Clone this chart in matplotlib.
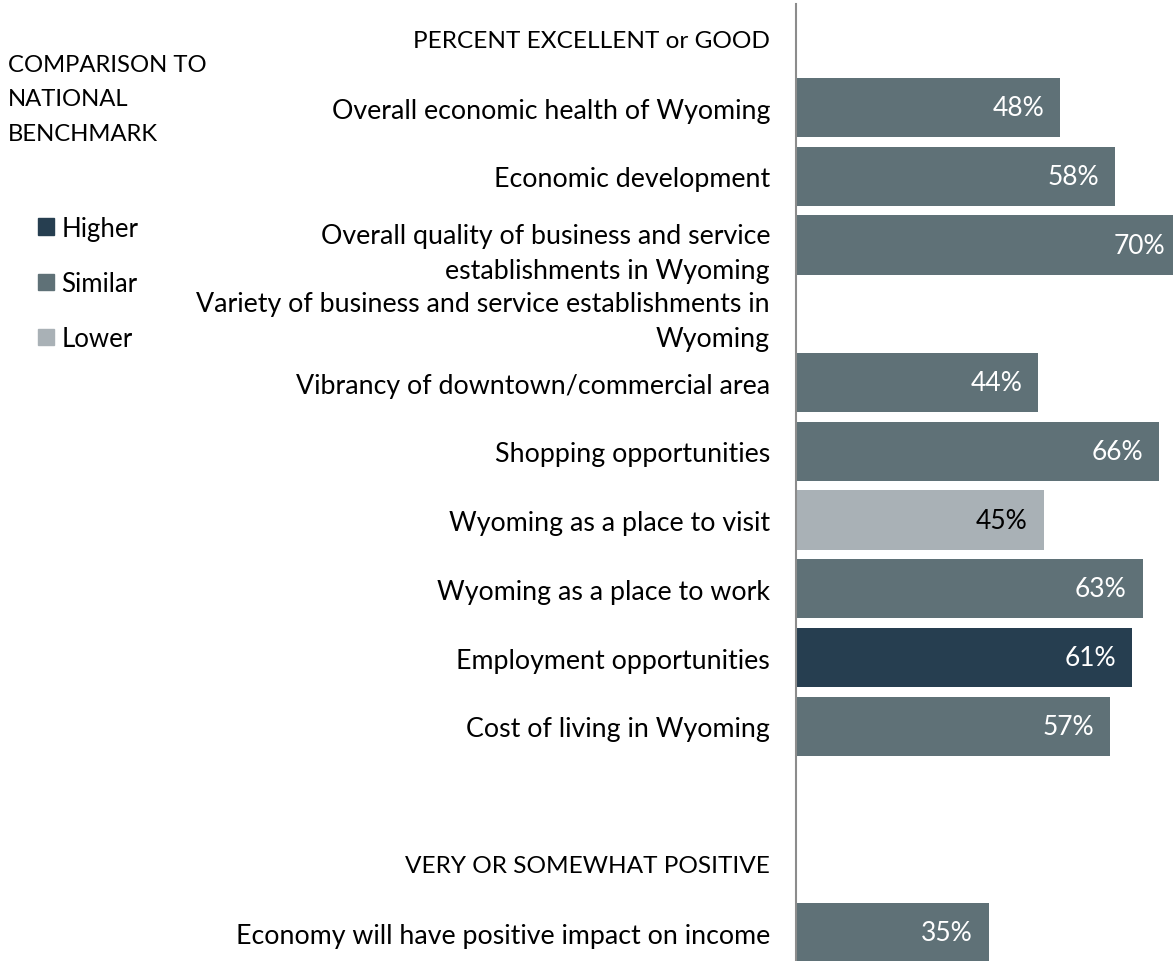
import matplotlib.pyplot as plt
from matplotlib.patches import Patch
import numpy as np

plt.rcParams['font.family'] = ['Lato', 'DejaVu Sans']

# rows from top to bottom; section headers and empty rows carry no value
categories = [
    'PERCENT EXCELLENT or GOOD',
    'Overall economic health of Wyoming',
    'Economic development',
    'Overall quality of business and service\nestablishments in Wyoming',
    'Variety of business and service establishments in\nWyoming',
    'Vibrancy of downtown/commercial area',
    'Shopping opportunities',
    'Wyoming as a place to visit',
    'Wyoming as a place to work',
    'Employment opportunities',
    'Cost of living in Wyoming',
    '',
    'VERY OR SOMEWHAT POSITIVE',
    'Economy will have positive impact on income',
]
values = [np.nan, 48, 58, 70, np.nan, 44, 66, 45, 63, 61, 57, np.nan, np.nan, 35]
benchmark = [None, 'Similar', 'Similar', 'Similar', None, 'Similar', 'Similar',
             'Lower', 'Similar', 'Higher', 'Similar', None, None, 'Similar']
section_rows = [0, 12]

legend_levels = ['Higher', 'Similar', 'Lower']
level_colors = {'Higher': '#263e50', 'Similar': '#5f7177', 'Lower': '#a9b1b6'}
text_colors = {'Higher': 'white', 'Similar': 'white', 'Lower': 'black'}

W, H = 1173, 962
fig = plt.figure(figsize=(W / 100, H / 100), dpi=100)
ax = fig.add_axes([796 / W, 1 - 967.9 / H, 1 - 796 / W, 962.5 / H])

y = np.arange(len(categories))
bar_colors = [level_colors[b] if b else 'none' for b in benchmark]
ax.barh(y, np.nan_to_num(values), height=0.86, color=bar_colors)

for i, (v, b) in enumerate(zip(values, benchmark)):
    if b is None or np.isnan(v):
        continue
    ax.annotate(f'{v:.0f}%', (v, i), xytext=(-11.5, 0), textcoords='offset points',
                ha='right', va='center', fontsize=19, color=text_colors[b],
                annotation_clip=False)

ax.set_xlim(0, 68.5)
ax.set_ylim(len(categories) - 0.5, -0.5)
ax.set_yticks(y)
ax.set_yticklabels(categories, fontsize=19.3, color='black')
for i, lab in enumerate(ax.get_yticklabels()):
    lab.set_linespacing(1.5)
    if i in section_rows:
        lab.set_fontsize(17.6)
ax.tick_params(axis='y', length=0, pad=18.7)
ax.set_xticks([])
for s in ['top', 'right', 'bottom']:
    ax.spines[s].set_visible(False)
ax.spines['left'].set_color('#8c8c8c')
ax.spines['left'].set_linewidth(1.5)

fig.text(8 / W, 1 - 100 / H, 'COMPARISON TO\nNATIONAL\nBENCHMARK', fontsize=17.2,
         ha='left', va='center', linespacing=1.78)

handles = [Patch(color=level_colors[l]) for l in legend_levels]
fig.legend(handles, legend_levels, loc='upper left', bbox_to_anchor=(25 / W, 1 - 204 / H),
           frameon=False, fontsize=18.5, handlelength=0.62, handleheight=0.62,
           handletextpad=0.3, labelspacing=1.17, borderpad=0)

fig.savefig('out.png', dpi=100)
